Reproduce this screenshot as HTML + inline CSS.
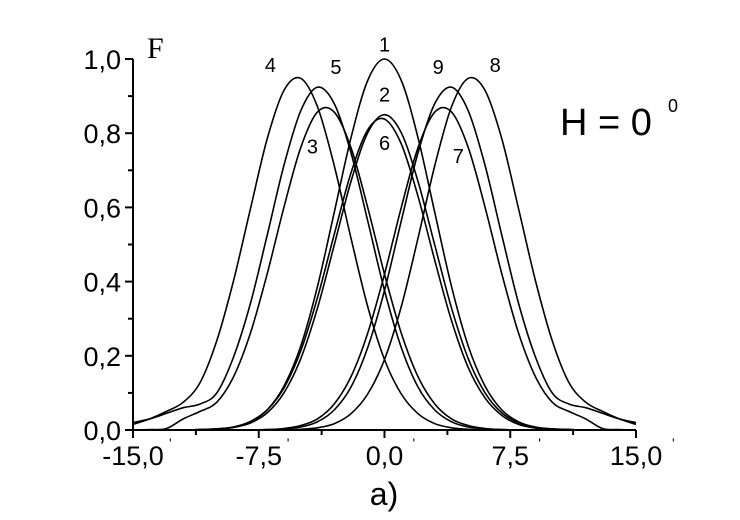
<!DOCTYPE html>
<html><head><meta charset="utf-8"><style>
html,body{margin:0;padding:0;background:#fff;}
svg text{font-family:"Liberation Sans",Arial,sans-serif;fill:#000;}
</style></head><body>
<svg id="chart" width="740" height="515" viewBox="0 0 740 515" xmlns="http://www.w3.org/2000/svg">
<g id="axes"></g>
<g id="curves"></g>
<g id="labels"></g>
<text x="147" y="58" style="font-family:'Liberation Serif',serif;font-size:30px;">F</text>
<text x="560" y="135" style="font-size:38px;">H = 0</text>
<text x="668" y="112" style="font-size:18px;">0</text>
<text x="384" y="505" text-anchor="middle" style="font-size:32px;">a)</text>
</svg>
<script>
const xValues=[-15,-14,-13,-12,-11,-10,-9,-8,-7,-6,-5,-4,-3,-2,-1,0,1,2,3,4,5,6,7,8,9,10,11,12,13,14,15];
const curve1=[0,0,0,0,0.001,0.003,0.008,0.022,0.054,0.118,0.226,0.386,0.586,0.788,0.942,1,0.942,0.788,0.586,0.386,0.226,0.118,0.054,0.022,0.008,0.003,0.001,0,0,0,0];
const curve2=[0,0,0,0,0.001,0.003,0.007,0.019,0.046,0.100,0.192,0.328,0.498,0.670,0.801,0.85,0.801,0.670,0.498,0.328,0.192,0.100,0.046,0.019,0.007,0.003,0.001,0,0,0,0];
const curve6=[0,0,0,0,0.001,0.003,0.008,0.023,0.054,0.113,0.213,0.356,0.527,0.693,0.809,0.838,0.771,0.630,0.457,0.294,0.168,0.086,0.039,0.015,0.005,0.002,0.001,0,0,0,0];
const curve4=[0.015,0.03,0.05,0.075,0.128,0.241,0.403,0.596,0.784,0.915,0.948,0.872,0.713,0.517,0.333,0.19,0.097,0.044,0.017,0.006,0.002,0,0,0,0,0,0,0,0,0,0];
const curve5=[0.02,0.03,0.045,0.06,0.07,0.10,0.197,0.341,0.524,0.713,0.860,0.924,0.880,0.747,0.564,0.376,0.222,0.116,0.054,0.022,0.008,0.003,0.001,0,0,0,0,0,0,0,0];
const curve3=[0,0.001,0.004,0.03,0.05,0.075,0.144,0.261,0.42,0.60,0.761,0.857,0.857,0.761,0.60,0.42,0.261,0.144,0.07,0.03,0.012,0.004,0.001,0,0,0,0,0,0,0,0];
const curve8=[0,0,0,0,0,0,0,0,0,0,0.002,0.006,0.017,0.044,0.097,0.19,0.333,0.517,0.713,0.872,0.948,0.915,0.784,0.596,0.403,0.241,0.128,0.075,0.05,0.03,0.015];
const curve9=[0,0,0,0,0,0,0,0,0.001,0.003,0.008,0.022,0.054,0.116,0.222,0.376,0.564,0.747,0.880,0.924,0.860,0.713,0.524,0.341,0.197,0.10,0.07,0.06,0.045,0.03,0.02];
const curve7=[0,0,0,0,0,0,0,0,0.001,0.004,0.012,0.03,0.07,0.144,0.261,0.42,0.60,0.761,0.857,0.857,0.761,0.60,0.42,0.261,0.144,0.075,0.05,0.03,0.004,0.001,0];
const xTickLabels=["-15,0","-7,5","0,0","7,5","15,0"];
const xTickValues=[-15,-7.5,0,7.5,15];
const yTickLabels=["0,0","0,2","0,4","0,6","0,8","1,0"];
const yTickValues=[0,0.2,0.4,0.6,0.8,1.0];
const curveNames=["1","2","3","4","5","6","7","8","9"];
const labelX=[0,0,-4.3,-6.8,-2.9,0,4.4,6.6,3.2];
const labelY=[1.02,0.885,0.745,0.965,0.96,0.755,0.72,0.965,0.96];

const NS="http://www.w3.org/2000/svg";
const X0=133,X1=636,Y0=430,Y1=59;
function sx(v){return X0+(v+15)/30*(X1-X0);}
function sy(v){return Y0-v*(Y0-Y1);}
function mk(tag,attrs,parent){const e=document.createElementNS(NS,tag);for(const k in attrs)e.setAttribute(k,attrs[k]);parent.appendChild(e);return e;}
const axes=document.getElementById('axes');
let e=mk('line',{x1:X0,y1:Y0,x2:X1,y2:Y0,stroke:'#000','stroke-width':2},axes);


e=mk('line',{x1:X0,y1:Y0,x2:X0,y2:Y1,stroke:'#000','stroke-width':2},axes);


for(let i=0;i<=8;i++){const v=-15+i*3.75;const len=(i%2==0)?8:5;
 e=mk('line',{x1:sx(v),y1:Y0,x2:sx(v),y2:Y0+len,stroke:'#000','stroke-width':2},axes);
 
 }
for(let i=0;i<=10;i++){const v=i*0.1;const len=(i%2==0)?8:5;
 e=mk('line',{x1:X0-len,y1:sy(v),x2:X0,y2:sy(v),stroke:'#000','stroke-width':2},axes);
 
 }
xTickValues.forEach((v,i)=>{
 e=mk('text',{x:sx(v),y:Y0+35,'text-anchor':'middle','font-size':27},axes);
 e.textContent=xTickLabels[i];
 
 
 e=mk('text',{x:sx(v)+(i==4?36:i==0?36:28),y:Y0+18,'font-size':14},axes);
 e.textContent="'";
 
 });
yTickValues.forEach((v,i)=>{
 e=mk('text',{x:X0-12,y:sy(v)+10,'text-anchor':'end','font-size':27},axes);
 e.textContent=yTickLabels[i];
 
 });
const series=[curve1,curve2,curve3,curve4,curve5,curve6,curve7,curve8,curve9];
const cg=document.getElementById('curves');
function smoothPath(pts){let d='M'+pts[0][0]+','+pts[0][1];
 for(let i=0;i<pts.length-1;i++){const p0=pts[Math.max(0,i-1)],p1=pts[i],p2=pts[i+1],p3=pts[Math.min(pts.length-1,i+2)];
  const c1=[p1[0]+(p2[0]-p0[0])/6,p1[1]+(p2[1]-p0[1])/6],c2=[p2[0]-(p3[0]-p1[0])/6,p2[1]-(p3[1]-p1[1])/6];
  d+=' C'+c1[0].toFixed(1)+','+c1[1].toFixed(1)+' '+c2[0].toFixed(1)+','+c2[1].toFixed(1)+' '+p2[0].toFixed(1)+','+p2[1].toFixed(1);}
 return d;}
series.forEach((s,k)=>{
 const pts=xValues.map((x,i)=>[sx(x),Math.min(sy(s[i]),Y0)]);
 const p=mk('path',{d:smoothPath(pts),fill:'none',stroke:'#000','stroke-width':1.6},cg);
 
 
});
const lg=document.getElementById('labels');
curveNames.forEach((n,k)=>{
 const t=mk('text',{x:sx(labelX[k]),y:sy(labelY[k]),'text-anchor':'middle','font-size':20},lg);
 t.textContent=n;
 
 
});
</script>
</body></html>
